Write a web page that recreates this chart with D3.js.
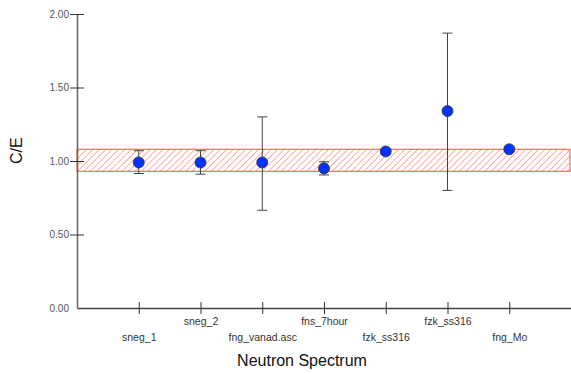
<!DOCTYPE html>
<html>
<head>
<meta charset="utf-8">
<script src="https://cdn.jsdelivr.net/npm/d3@7"></script>
<style>
  body { margin: 0; background: #fff; }
  svg { font-family: "Liberation Sans", Arial, sans-serif; }
</style>
</head>
<body>
<svg id="chart"></svg>
<script>
var width = 571, height = 374;
var margin = { top: 14, right: 0, bottom: 66, left: 77 };

// data
var categories = ["sneg_1", "sneg_2", "fng_vanad.asc", "fns_7hour", "fzk_ss316", "fzk_ss316", "fng_Mo"];
var ceValues = [0.99, 0.99, 0.99, 0.95, 1.065, 1.34, 1.08];
var errLow = [0.915, 0.91, 0.665, 0.905, 1.05, 0.80, 1.065];
var errHigh = [1.07, 1.07, 1.30, 0.995, 1.08, 1.87, 1.095];
var bandRange = [0.93, 1.08];
var yTicks = [0, 0.5, 1, 1.5, 2];

var svg = d3.select("svg#chart").attr("width", width).attr("height", height);

var x = d3.scaleLinear().domain([0, categories.length + 1]).range([margin.left, width - margin.right]);
var y = d3.scaleLinear().domain([0, 2]).range([height - margin.bottom, margin.top]);

// hatch pattern for the band
var defs = svg.append("defs");
var pat = defs.append("pattern")
  .attr("id", "hatch")
  .attr("patternUnits", "userSpaceOnUse")
  .attr("width", 4.5).attr("height", 4.5)
  .attr("patternTransform", "rotate(45)");
pat.append("line")
  .attr("x1", 0).attr("y1", 0).attr("x2", 0).attr("y2", 4.5)
  .attr("stroke", "#ff5a4a").attr("stroke-width", 1);

// band
svg.append("rect")
  .attr("x", x(0))
  .attr("y", y(bandRange[1]))
  .attr("width", x(categories.length + 1) - x(0) - 1)
  .attr("height", y(bandRange[0]) - y(bandRange[1]))
  .attr("fill", "url(#hatch)")
  .attr("stroke", "#f0503c")
  .attr("stroke-width", 1);

// Y axis
var yAxis = svg.append("g")
  .attr("transform", "translate(" + x(0) + ",0)")
  .call(d3.axisLeft(y).tickValues(yTicks).tickFormat(d3.format(".2f")).tickSize(0).tickPadding(8));
yAxis.select(".domain").attr("stroke", "#666").attr("stroke-width", 1.5);
yAxis.selectAll(".tick text").attr("fill", "#555").style("font-size", "10px");
yAxis.selectAll(".tick").filter(function (d) { return d > 0; })
  .append("line").attr("x1", -7).attr("x2", 7).attr("stroke", "#333");

// X axis
var xAxis = svg.append("g")
  .attr("transform", "translate(0," + y(0) + ")")
  .call(d3.axisBottom(x).tickValues(d3.range(1, categories.length + 1)).tickSize(0).tickFormat(""));
xAxis.select(".domain").attr("stroke", "#444").attr("stroke-width", 1.5);
xAxis.selectAll(".tick").append("line").attr("y1", -6).attr("y2", 6).attr("stroke", "#333");
xAxis.selectAll(".tick").append("text")
  .attr("y", function (d) { return d % 2 === 1 ? 33 : 17; })
  .attr("fill", "#333")
  .attr("text-anchor", "middle")
  .style("font-size", "10.5px")
  .text(function (d) { return categories[d - 1]; });

// error bars
var idx = d3.range(categories.length);
var eb = svg.append("g");
eb.selectAll("line.v").data(idx).join("line").attr("class", "v")
  .attr("x1", function (i) { return x(i + 1); })
  .attr("x2", function (i) { return x(i + 1); })
  .attr("y1", function (i) { return y(errLow[i]); })
  .attr("y2", function (i) { return y(errHigh[i]); })
  .attr("stroke", "#444").attr("stroke-width", 1);
["lo", "hi"].forEach(function (k) {
  eb.selectAll("line." + k).data(idx).join("line").attr("class", k)
    .attr("x1", function (i) { return x(i + 1) - 5; })
    .attr("x2", function (i) { return x(i + 1) + 5; })
    .attr("y1", function (i) { return y(k === "lo" ? errLow[i] : errHigh[i]); })
    .attr("y2", function (i) { return y(k === "lo" ? errLow[i] : errHigh[i]); })
    .attr("stroke", "#444").attr("stroke-width", 1);
});

// points
svg.append("g").selectAll("circle").data(idx).join("circle")
  .attr("cx", function (i) { return x(i + 1); })
  .attr("cy", function (i) { return y(ceValues[i]); })
  .attr("r", 5.5)
  .attr("fill", "#0033ff")
  .attr("stroke", "#333")
  .attr("stroke-width", 0.8);

// axis titles
svg.append("text")
  .attr("x", 302).attr("y", 366)
  .attr("text-anchor", "middle")
  .style("font-size", "16px")
  .attr("fill", "#111")
  .text("Neutron Spectrum");
svg.append("text")
  .attr("transform", "translate(22," + y(1.07) + ") rotate(-90)")
  .attr("text-anchor", "middle")
  .style("font-size", "16px")
  .attr("fill", "#111")
  .text("C/E");
</script>
</body>
</html>
